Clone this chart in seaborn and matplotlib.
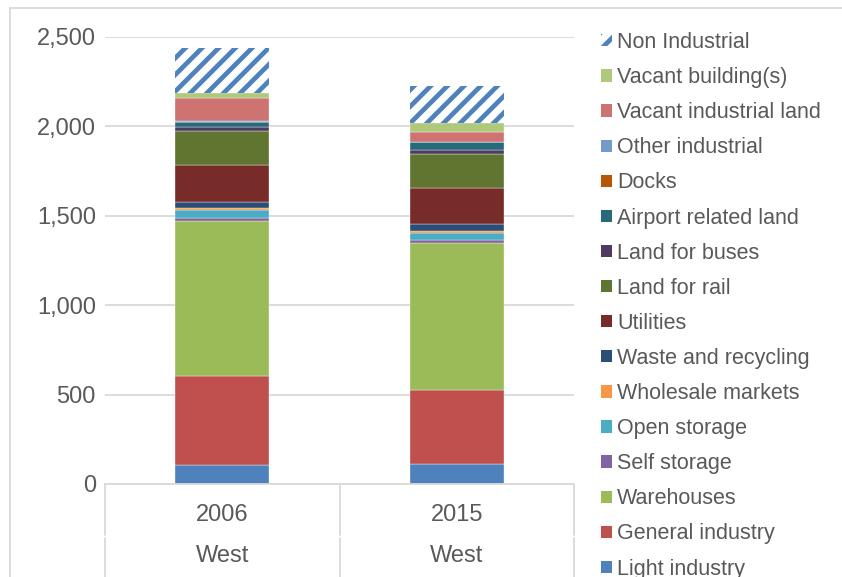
import matplotlib.pyplot as plt
import matplotlib.patches as mpatches
import matplotlib.transforms as mtransforms
from matplotlib.lines import Line2D
from matplotlib.ticker import StrMethodFormatter
import pandas as pd
import seaborn as sns

# data (industrial land, West, 2006 vs 2015)
years = ["2006", "2015"]
regions = ["West", "West"]

# stacking order, bottom to top
categories = [
    "Light industry",
    "General industry",
    "Warehouses",
    "Self storage",
    "Open storage",
    "Wholesale markets",
    "Waste and recycling",
    "Utilities",
    "Land for rail",
    "Land for buses",
    "Airport related land",
    "Docks",
    "Other industrial",
    "Vacant industrial land",
    "Vacant building(s)",
    "Non Industrial",
]

light_industry = [106, 112]
general_industry = [498, 414]
warehouses = [866, 822]
self_storage = [17, 17]
open_storage = [45, 39]
wholesale_markets = [11, 8]
waste_recycling = [34, 39]
utilities = [207, 201]
land_for_rail = [190, 190]
land_for_buses = [22, 22]
airport_land = [28, 45]
docks = [0, 0]
other_industrial = [5, 5]
vacant_land = [129, 54]
vacant_buildings = [28, 47]
non_industrial = [251, 207]

series = [
    light_industry, general_industry, warehouses, self_storage, open_storage,
    wholesale_markets, waste_recycling, utilities, land_for_rail, land_for_buses,
    airport_land, docks, other_industrial, vacant_land, vacant_buildings,
    non_industrial,
]

palette = {
    "Light industry": "#4F81BD",
    "General industry": "#C0504D",
    "Warehouses": "#9BBB59",
    "Self storage": "#8064A2",
    "Open storage": "#4BACC6",
    "Wholesale markets": "#F79646",
    "Waste and recycling": "#2C4D75",
    "Utilities": "#772C2A",
    "Land for rail": "#5F7530",
    "Land for buses": "#4D3B62",
    "Airport related land": "#276A7C",
    "Docks": "#B65708",
    "Other industrial": "#729ACA",
    "Vacant industrial land": "#CD7371",
    "Vacant building(s)": "#AFC97A",
    "Non Industrial": "#4F81BD",
}

df = pd.DataFrame(
    [(c, y, v[i]) for c, v in zip(categories, series) for i, y in enumerate(years)],
    columns=["category", "year", "area"],
)

sns.set_theme(style="white")
plt.rcParams["font.family"] = ["Liberation Sans", "DejaVu Sans"]
plt.rcParams["hatch.linewidth"] = 3.4
plt.rcParams["hatch.color"] = "#4F81BD"

text_color = "#595959"
grid_color = "#d9d9d9"
fs = 15.5
fs_axis = 17

fig = plt.figure(figsize=(8.42, 5.77), dpi=100)
ax = fig.add_axes([105 / 842, 1 - 484 / 577, (574 - 105) / 842, (484 - 36.7) / 577])

bottoms = [0, 0]
for cat in categories:
    sub = df[df["category"] == cat]
    vals = sub["area"].tolist()
    if cat == "Non Industrial":
        sns.barplot(data=sub, x="year", y="area", order=years, color="white",
                    saturation=1, width=0.4, errorbar=None, bottom=bottoms,
                    edgecolor=palette[cat], linewidth=0, hatch="//", ax=ax)
    else:
        sns.barplot(data=sub, x="year", y="area", order=years, color=palette[cat],
                    saturation=1, width=0.4, errorbar=None, bottom=bottoms,
                    edgecolor="white", linewidth=0.25, ax=ax)
    bottoms = [b + v for b, v in zip(bottoms, vals)]

ax.set_ylim(0, 2500)
ax.set_xlim(-0.5, 1.5)
ax.set_yticks([0, 500, 1000, 1500, 2000, 2500])
ax.yaxis.set_major_formatter(StrMethodFormatter("{x:,.0f}"))
ax.set_xticks([])
ax.set_xlabel("")
ax.set_ylabel("")
ax.tick_params(axis="y", length=0, pad=6.5, labelsize=fs_axis, labelcolor=text_color)
ax.yaxis.grid(True, color=grid_color, linewidth=1.3)
ax.set_axisbelow(True)
for side in ["top", "right", "left"]:
    ax.spines[side].set_visible(False)
ax.spines["bottom"].set_color(grid_color)
ax.spines["bottom"].set_linewidth(1.3)

# two-level category axis
trans = mtransforms.blended_transform_factory(ax.transData, ax.transAxes)
for i, (yr, rg) in enumerate(zip(years, regions)):
    ax.text(i, -0.069, yr, transform=trans, ha="center", va="center",
            fontsize=fs_axis, color=text_color)
    ax.text(i, -0.161, rg, transform=trans, ha="center", va="center",
            fontsize=fs_axis, color=text_color)
for xpos in [-0.5, 0.5, 1.5]:
    ax.plot([xpos, xpos], [0, -0.115], transform=trans, clip_on=False,
            color=grid_color, linewidth=1.3)
    ax.plot([xpos, xpos], [-0.121, -0.3], transform=trans, clip_on=False,
            color=grid_color, linewidth=1.3)

# legend, top entry first
handles = []
for cat in categories[::-1]:
    if cat == "Non Industrial":
        handles.append(mpatches.Patch(facecolor="white", edgecolor=palette[cat],
                                      linewidth=0, hatch="//", label=cat))
    else:
        handles.append(mpatches.Patch(facecolor=palette[cat], linewidth=0, label=cat))
fig.legend(handles=handles, loc="upper left", bbox_to_anchor=(601 / 842, 1 - 32 / 577),
           frameon=False, fontsize=fs, labelcolor=text_color, borderpad=0,
           borderaxespad=0, handlelength=0.5, handleheight=0.5, handletextpad=0.25,
           labelspacing=0.655)

# chart area border
fig.add_artist(Line2D([10 / 842, 10 / 842], [0, 1 - 8 / 577], transform=fig.transFigure,
                      color=grid_color, linewidth=1.3))
fig.add_artist(Line2D([10 / 842, 1], [1 - 8 / 577, 1 - 8 / 577], transform=fig.transFigure,
                      color=grid_color, linewidth=1.3))

fig.savefig("out.png", dpi=100)
